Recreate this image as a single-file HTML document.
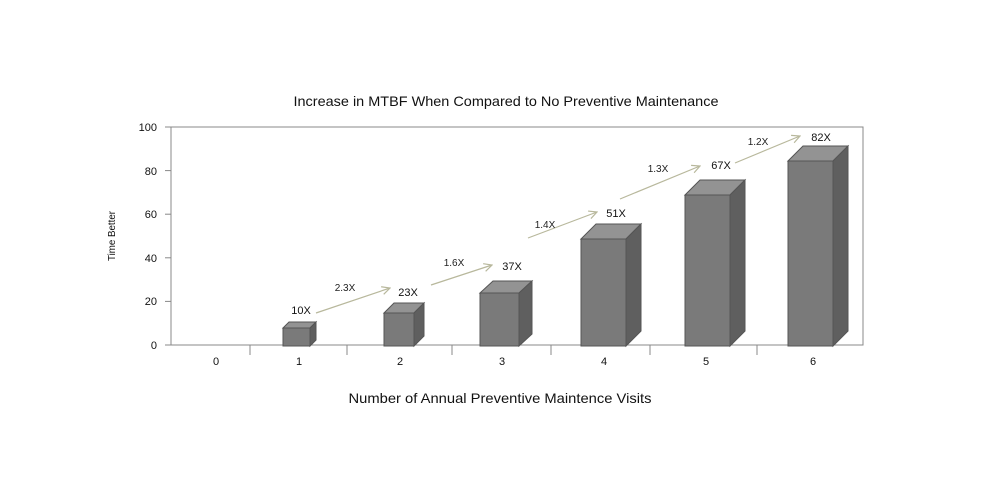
<!DOCTYPE html><html><head><style>body{margin:0;background:#fff}svg{display:block}</style></head><body>
<svg width="999" height="497" xmlns="http://www.w3.org/2000/svg" font-family="Liberation Sans, sans-serif">
<defs><marker id="a" markerWidth="10" markerHeight="10" refX="9" refY="5" orient="auto" markerUnits="userSpaceOnUse"><path d="M1,1 L9,5 L1,9" fill="none" stroke="#b8b89c" stroke-width="1.2"/></marker></defs>
<text x="506" y="106" font-size="14" text-anchor="middle" fill="#111" textLength="425" lengthAdjust="spacingAndGlyphs">Increase in MTBF When Compared to No Preventive Maintenance</text>
<rect x="171" y="127" width="692" height="218" fill="none" stroke="#888"/>
<g stroke="#888"><line x1="165" y1="127" x2="171" y2="127"/><line x1="165" y1="170.6" x2="171" y2="170.6"/><line x1="165" y1="214.2" x2="171" y2="214.2"/><line x1="165" y1="257.8" x2="171" y2="257.8"/><line x1="165" y1="301.4" x2="171" y2="301.4"/><line x1="165" y1="345" x2="171" y2="345"/>
<line x1="250" y1="345" x2="250" y2="355"/><line x1="347" y1="345" x2="347" y2="355"/><line x1="452" y1="345" x2="452" y2="355"/><line x1="551" y1="345" x2="551" y2="355"/><line x1="650" y1="345" x2="650" y2="355"/><line x1="757" y1="345" x2="757" y2="355"/></g>
<g font-size="11" text-anchor="end" fill="#111"><text x="157" y="131">100</text><text x="157" y="175">80</text><text x="157" y="218">60</text><text x="157" y="262">40</text><text x="157" y="305">20</text><text x="157" y="349">0</text></g>
<g font-size="11" text-anchor="middle" fill="#111"><text x="216" y="365">0</text><text x="299" y="365">1</text><text x="400" y="365">2</text><text x="502" y="365">3</text><text x="604" y="365">4</text><text x="706" y="365">5</text><text x="813" y="365">6</text></g>
<text transform="translate(115,236) rotate(-90)" font-size="10" text-anchor="middle" fill="#111" textLength="50" lengthAdjust="spacingAndGlyphs">Time Better</text>
<text x="500" y="403" font-size="14" text-anchor="middle" fill="#111" textLength="303" lengthAdjust="spacingAndGlyphs">Number of Annual Preventive Maintence Visits</text>
<g stroke="#555" stroke-width="1">
<g><polygon points="283,328 289,322 316,322 310,328" fill="#939393"/><polygon points="310,328 316,322 316,340 310,346" fill="#5f5f5f"/><rect x="283" y="328" width="27" height="18" fill="#7a7a7a"/></g>
<g><polygon points="384,313 394,303 424,303 414,313" fill="#939393"/><polygon points="414,313 424,303 424,336 414,346" fill="#5f5f5f"/><rect x="384" y="313" width="30" height="33" fill="#7a7a7a"/></g>
<g><polygon points="480,293 493,281 532,281 519,293" fill="#939393"/><polygon points="519,293 532,281 532,334 519,346" fill="#5f5f5f"/><rect x="480" y="293" width="39" height="53" fill="#7a7a7a"/></g>
<g><polygon points="581,239 596,224 641,224 626,239" fill="#939393"/><polygon points="626,239 641,224 641,331 626,346" fill="#5f5f5f"/><rect x="581" y="239" width="45" height="107" fill="#7a7a7a"/></g>
<g><polygon points="685,195 700,180 745,180 730,195" fill="#939393"/><polygon points="730,195 745,180 745,331 730,346" fill="#5f5f5f"/><rect x="685" y="195" width="45" height="151" fill="#7a7a7a"/></g>
<g><polygon points="788,161 803,146 848,146 833,161" fill="#939393"/><polygon points="833,161 848,146 848,331 833,346" fill="#5f5f5f"/><rect x="788" y="161" width="45" height="185" fill="#7a7a7a"/></g>
</g>
<g stroke="#b8b89c" stroke-width="1.2" marker-end="url(#a)"><line x1="316" y1="313" x2="390" y2="288"/><line x1="431" y1="285" x2="492" y2="265"/><line x1="528" y1="238" x2="597" y2="212"/><line x1="620" y1="199" x2="700" y2="166"/><line x1="735" y1="163" x2="800" y2="136"/></g>
<g font-size="11" fill="#111" text-anchor="middle"><text x="301" y="314">10X</text><text x="408" y="296">23X</text><text x="512" y="270">37X</text><text x="616" y="217">51X</text><text x="721" y="169">67X</text><text x="821" y="141">82X</text></g>
<g font-size="10" fill="#222" text-anchor="middle"><text x="345" y="291">2.3X</text><text x="454" y="266">1.6X</text><text x="545" y="228">1.4X</text><text x="658" y="172">1.3X</text><text x="758" y="145">1.2X</text></g>
</svg></body></html>
